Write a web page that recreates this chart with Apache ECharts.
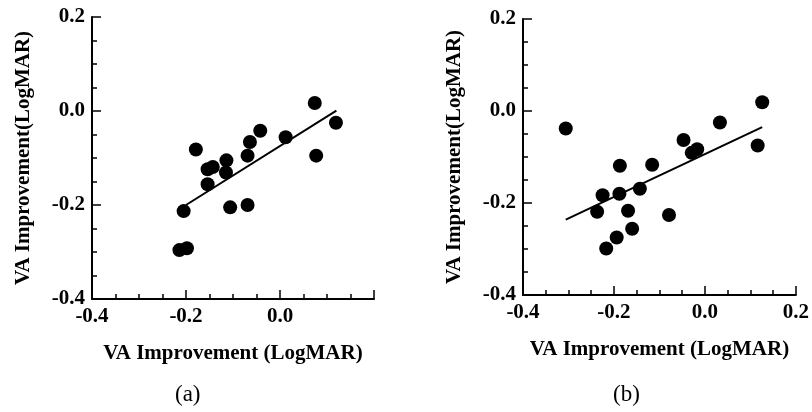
<!DOCTYPE html>
<html>
<head>
<meta charset="utf-8">
<script src="https://cdn.jsdelivr.net/npm/echarts@6/dist/echarts.min.js"></script>
<style>
  html, body { margin: 0; padding: 0; background: #fff; }
  #chart { width: 812px; height: 412px; }
</style>
</head>
<body>
<div id="chart"></div>
<script>
// (a) points
let xA = [0.074, 0.119, 0.077, 0.012, -0.042, -0.064, -0.069, -0.069, -0.106,
          -0.114, -0.115, -0.143, -0.154, -0.154, -0.179, -0.205, -0.198, -0.214];
let yA = [0.017, -0.025, -0.095, -0.056, -0.042, -0.066, -0.095, -0.200, -0.205,
          -0.105, -0.131, -0.119, -0.124, -0.156, -0.082, -0.213, -0.292, -0.296];
// fitted line ends
let fitAx = [-0.2, 0.12];
let fitAy = [-0.2, 0.001];

// (b) points
let xB = [0.126, 0.033, 0.116, -0.047, -0.017, -0.029, -0.116, -0.187, -0.306,
          -0.143, -0.188, -0.225, -0.237, -0.169, -0.079, -0.160, -0.194, -0.217];
let yB = [0.019, -0.025, -0.075, -0.063, -0.083, -0.091, -0.117, -0.119, -0.038,
          -0.169, -0.180, -0.183, -0.219, -0.217, -0.226, -0.256, -0.275, -0.299];
let fitBx = [-0.306, 0.126];
let fitBy = [-0.236, -0.035];

let xName = 'VA Improvement (LogMAR)';
let yName = 'VA Improvement(LogMAR)';

function pairs(xs, ys) {
    let out = [];
    for (let i in xs) out.push([xs[i], ys[i]]);
    return out;
}

let serif = 'Liberation Serif';
let black = '#000';

function fmt(v) {
    return (Math.abs(v) < 1e-9 ? 0 : v).toFixed(1);
}

function makeAxis(idx, isX, hideTop) {
    return {
        type: 'value',
        gridIndex: idx,
        min: -0.4,
        max: 0.2,
        interval: 0.2,
        name: isX ? xName : yName,
        nameLocation: 'middle',
        nameGap: isX ? 44 : 58,
        nameTextStyle: { fontFamily: serif, fontWeight: 'bold', fontSize: 21, color: black },
        axisLine: { show: true, onZero: false, lineStyle: { color: black, width: 2 } },
        axisTick: { show: true, inside: true, length: 9, lineStyle: { color: black, width: 1.5 } },
        minorTick: { show: true, splitNumber: 4, length: 5, lineStyle: { color: black, width: 1.5 } },
        splitLine: { show: false },
        axisLabel: {
            fontFamily: serif, fontWeight: 'bold', fontSize: 21, color: black,
            margin: isX ? 7 : 7,
            showMaxLabel: !hideTop,
            formatter: fmt
        }
    };
}

let chart = echarts.init(document.getElementById('chart'));

let dot = { color: black, opacity: 1 };

let option = {
    animation: false,
    backgroundColor: '#fff',
    grid: [
        { left: 92, top: 17, width: 282, height: 282 },
        { left: 523, top: 19, width: 277, height: 276 }
    ],
    xAxis: [makeAxis(0, true, true), makeAxis(1, true, false)],
    yAxis: [makeAxis(0, false, false), makeAxis(1, false, false)],
    graphic: [
        { type: 'text', left: 175, top: 383, style: { text: '(a)', font: '23px "Liberation Serif"', fill: black } },
        { type: 'text', left: 613, top: 383, style: { text: '(b)', font: '23px "Liberation Serif"', fill: black } }
    ],
    series: [
        {
            type: 'scatter', xAxisIndex: 0, yAxisIndex: 0,
            symbolSize: 14, itemStyle: dot,
            data: pairs(xA, yA)
        },
        {
            type: 'line', xAxisIndex: 0, yAxisIndex: 0,
            showSymbol: false, lineStyle: { color: black, width: 2 },
            data: pairs(fitAx, fitAy)
        },
        {
            type: 'scatter', xAxisIndex: 1, yAxisIndex: 1,
            symbolSize: 14, itemStyle: dot,
            data: pairs(xB, yB)
        },
        {
            type: 'line', xAxisIndex: 1, yAxisIndex: 1,
            showSymbol: false, lineStyle: { color: black, width: 2 },
            data: pairs(fitBx, fitBy)
        }
    ]
};

chart.setOption(option);
</script>
</body>
</html>
